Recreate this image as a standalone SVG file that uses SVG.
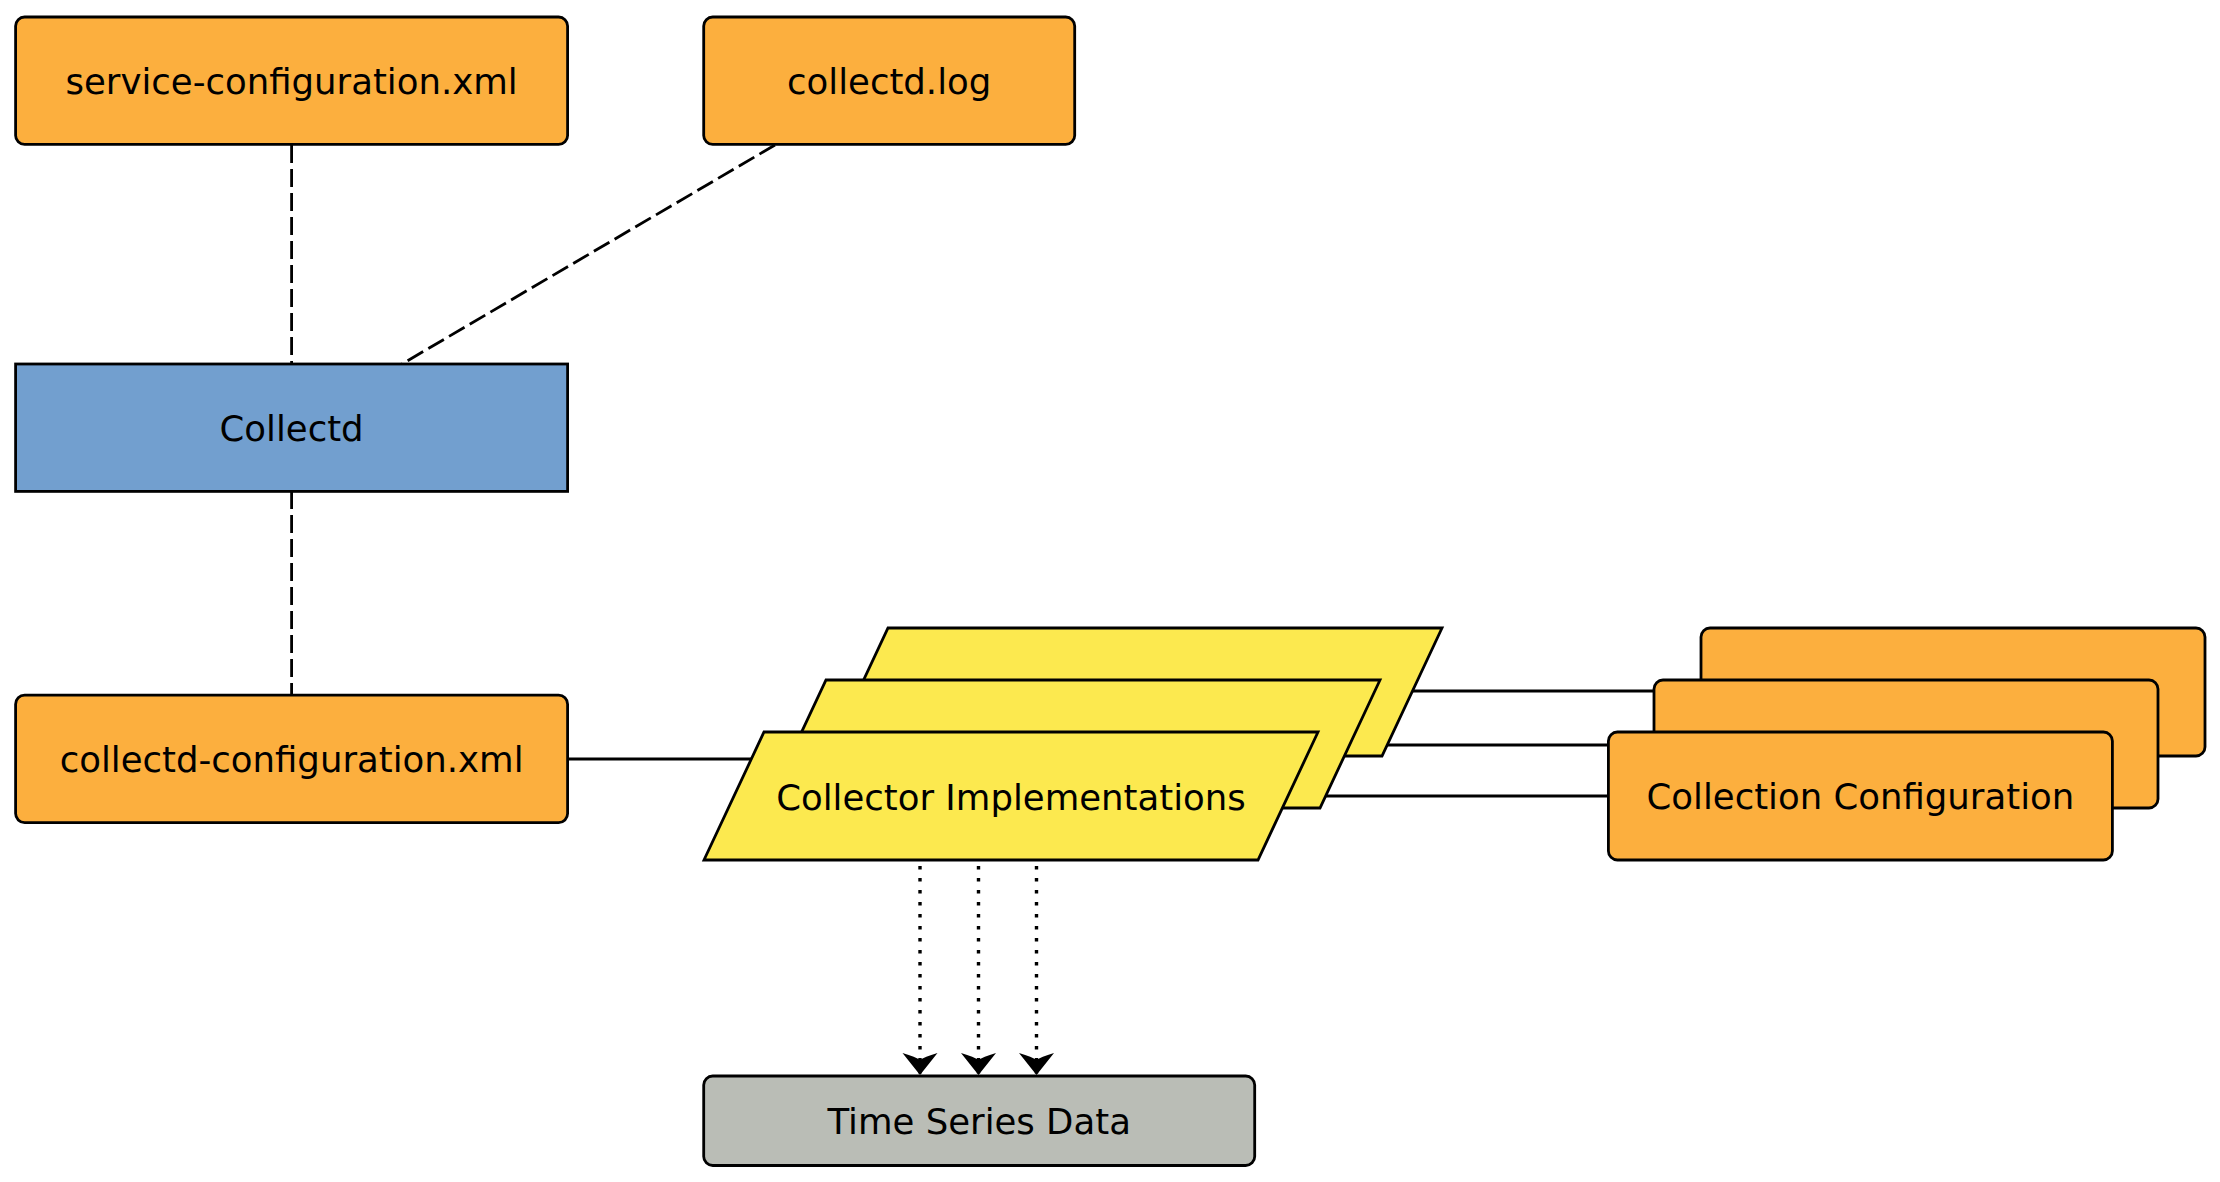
<svg xmlns="http://www.w3.org/2000/svg" width="2220" height="1182" viewBox="0 0 2220 1182">
  <style>
    .box { stroke: #000; stroke-width: 2.8; }
    .file { fill: #FCAF3E; }
    .proc { fill: #729FCF; }
    .impl { fill: #FCE94F; stroke-linejoin: miter; }
    .store { fill: #BABDB6; }
    .label { font-family: "DejaVu Sans", "Liberation Sans", sans-serif; font-size: 35.5px; fill: #000; text-anchor: middle; }
    .link { stroke: #000; stroke-width: 2.8; fill: none; }
    .dashed { stroke-dasharray: 18 6; }
    .dotted { stroke-width: 3.4; stroke-dasharray: 3.4 8.6; }
  </style>
  <defs>
    <marker id="barb" markerUnits="userSpaceOnUse" viewBox="-24 -19 26 38" refX="0" refY="0" markerWidth="26" markerHeight="38" orient="auto">
      <path d="M0,0 L-22,-17.5 Q-18,-4 -15,0 Q-18,4 -22,17.5 Z" fill="#000"/>
    </marker>
  </defs>

  <!-- connectors sit beneath the nodes -->
  <g id="connectors">
    <line class="link dashed" x1="291.6" y1="145" x2="291.6" y2="364"/>
    <line class="link dashed" x1="775" y1="145" x2="402" y2="364"/>
    <line class="link dashed" x1="291.6" y1="491" x2="291.6" y2="695"/>
    <line class="link" x1="567" y1="759" x2="760" y2="759"/>
    <line class="link" x1="1400" y1="691" x2="1705" y2="691"/>
    <line class="link" x1="1340" y1="745" x2="1660" y2="745"/>
    <line class="link" x1="1280" y1="796" x2="1610" y2="796"/>
    <line class="link dotted" x1="920" y1="866" x2="920" y2="1075" marker-end="url(#barb)"/>
    <line class="link dotted" x1="978.5" y1="866" x2="978.5" y2="1075" marker-end="url(#barb)"/>
    <line class="link dotted" x1="1036.5" y1="866" x2="1036.5" y2="1075" marker-end="url(#barb)"/>
  </g>

  <g id="service-configuration">
    <rect class="box file" x="15.6" y="17" width="552" height="127.4" rx="9"/>
    <text class="label" x="291.6" y="93.5">service-configuration.xml</text>
  </g>

  <g id="collectd-log">
    <rect class="box file" x="703.7" y="17" width="371" height="127.4" rx="9"/>
    <text class="label" x="889.2" y="93.5">collectd.log</text>
  </g>

  <g id="collectd">
    <rect class="box proc" x="15.6" y="364" width="552" height="127.4"/>
    <text class="label" x="291.6" y="440.5">Collectd</text>
  </g>

  <g id="collectd-configuration">
    <rect class="box file" x="15.6" y="695.2" width="552" height="127.4" rx="9"/>
    <text class="label" x="291.6" y="771.5">collectd-configuration.xml</text>
  </g>

  <g id="collector-implementations">
    <polygon class="box impl" points="828,756 888,628 1442,628 1382,756"/>
    <polygon class="box impl" points="766,808 826,680 1380,680 1320,808"/>
    <polygon class="box impl" points="704,860 764,732 1318,732 1258,860"/>
    <text class="label" x="1011" y="809.5">Collector Implementations</text>
  </g>

  <g id="collection-configuration">
    <rect class="box file" x="1701" y="628" width="504" height="128" rx="9"/>
    <rect class="box file" x="1654" y="680" width="504" height="128" rx="9"/>
    <rect class="box file" x="1608.4" y="732" width="504" height="128" rx="9"/>
    <text class="label" x="1860.4" y="808.5">Collection Configuration</text>
  </g>

  <g id="time-series-data">
    <rect class="box store" x="703.7" y="1076" width="551" height="89.5" rx="9"/>
    <text class="label" x="979.2" y="1133.5">Time Series Data</text>
  </g>
</svg>
